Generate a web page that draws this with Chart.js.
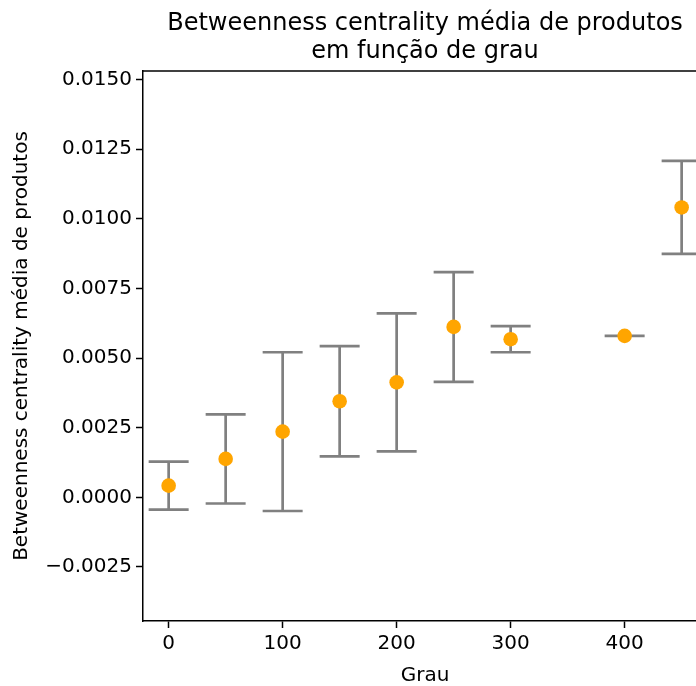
<!DOCTYPE html>
<html>
<head>
<meta charset="utf-8">
<script src="https://cdn.jsdelivr.net/npm/chart.js@4"></script>
<style>
  html, body { margin: 0; padding: 0; background: #fff; }
</style>
</head>
<body>
<canvas id="grafico" width="696" height="686"></canvas>
<script>
'use strict'

// dados
let grau = [0, 50, 100, 150, 200, 250, 300, 400, 450];
let mediaBetweenness = [0.00042, 0.00138, 0.00236, 0.00345, 0.00413, 0.00612, 0.00568, 0.00580, 0.01041];
let desvioBetweenness = [0.00086, 0.00160, 0.00285, 0.00198, 0.00248, 0.00197, 0.00047, 0.0, 0.00167];

let ticksX = [0, 100, 200, 300, 400];
let ticksY = [-0.0025, 0, 0.0025, 0.005, 0.0075, 0.01, 0.0125, 0.015];

let titulo = ['Betweenness centrality média de produtos', 'em função de grau'];
let rotuloX = 'Grau';
let rotuloY = 'Betweenness centrality média de produtos';

const fonte = 'DejaVu Sans';

// pontos para o chart.js
let pontos = [];
for (let i = 0; i < grau.length; i++) {
  pontos.push({ x: grau[i], y: mediaBetweenness[i] });
}

function formatarY(v) {
  let txt = Math.abs(v).toFixed(4);
  if (v < -1e-12) txt = '\u2212' + txt;
  return txt;
}

// desenha as barras de erro (media +- desvio) antes dos pontos
const barrasDeErro = {
  id: 'barrasDeErro',
  beforeDatasetsDraw(chart) {
    const ctx = chart.ctx;
    const escalaX = chart.scales.x;
    const escalaY = chart.scales.y;
    const meiaTampa = 20;
    ctx.save();
    ctx.strokeStyle = '#808080';
    ctx.lineWidth = 2.7;
    for (let i = 0; i < grau.length; i++) {
      let px = escalaX.getPixelForValue(grau[i]);
      let topo = escalaY.getPixelForValue(mediaBetweenness[i] + desvioBetweenness[i]);
      let base = escalaY.getPixelForValue(mediaBetweenness[i] - desvioBetweenness[i]);
      ctx.beginPath();
      ctx.moveTo(px, topo);
      ctx.lineTo(px, base);
      ctx.moveTo(px - meiaTampa, topo);
      ctx.lineTo(px + meiaTampa, topo);
      ctx.moveTo(px - meiaTampa, base);
      ctx.lineTo(px + meiaTampa, base);
      ctx.stroke();
    }
    ctx.restore();
  },
  afterDraw(chart) {
    const ctx = chart.ctx;
    const area = chart.chartArea;
    ctx.save();
    // borda de cima do eixo
    ctx.strokeStyle = '#000';
    ctx.lineWidth = 1.5;
    ctx.beginPath();
    ctx.moveTo(area.left, area.top);
    ctx.lineTo(area.right, area.top);
    ctx.stroke();
    // titulo e rotulo do eixo x (centro do eixo completo, que passa da borda da imagem)
    ctx.fillStyle = '#000';
    ctx.textAlign = 'center';
    ctx.textBaseline = 'alphabetic';
    ctx.font = '24px "' + fonte + '"';
    ctx.fillText(titulo[0], 425, 30);
    ctx.fillText(titulo[1], 425, 58);
    ctx.font = '20px "' + fonte + '"';
    ctx.fillText(rotuloX, 425, 681);
    ctx.restore();
  }
};

const config = {
  type: 'scatter',
  data: {
    datasets: [{
      label: 'media',
      data: pontos,
      backgroundColor: '#FFA500',
      borderColor: '#FFA500',
      borderWidth: 0,
      pointRadius: 7.3,
      pointHoverRadius: 7.3
    }]
  },
  options: {
    responsive: false,
    animation: false,
    devicePixelRatio: 1,
    layout: { autoPadding: false, padding: { top: 71, left: 0, right: 0, bottom: 0 } },
    plugins: {
      legend: { display: false },
      tooltip: { enabled: false },
      title: { display: false }
    },
    scales: {
      x: {
        type: 'linear',
        min: -22.5,
        max: 462.6,
        afterBuildTicks: function (eixo) {
          eixo.ticks = ticksX.map(v => ({ value: v }));
        },
        afterFit: function (eixo) { eixo.height = 65; },
        ticks: {
          color: '#000',
          font: { family: fonte, size: 20 },
          padding: 4,
          maxRotation: 0,
          autoSkip: false
        },
        grid: {
          drawOnChartArea: false,
          drawTicks: true,
          tickLength: 7,
          tickWidth: 1.5,
          tickColor: '#000'
        },
        border: { display: true, color: '#000', width: 1.5 }
      },
      y: {
        type: 'linear',
        min: -0.00444,
        max: 0.01531,
        afterBuildTicks: function (eixo) {
          eixo.ticks = ticksY.map(v => ({ value: v }));
        },
        afterFit: function (eixo) { eixo.width = 143; },
        ticks: {
          color: '#000',
          font: { family: fonte, size: 20 },
          padding: 4,
          callback: function (v) { return formatarY(v); }
        },
        grid: {
          drawOnChartArea: false,
          drawTicks: true,
          tickLength: 7,
          tickWidth: 1.5,
          tickColor: '#000'
        },
        border: { display: true, color: '#000', width: 1.5 },
        title: {
          display: true,
          text: rotuloY,
          color: '#000',
          font: { family: fonte, size: 20 },
          padding: { top: 10, bottom: 0 }
        }
      }
    }
  },
  plugins: [barrasDeErro]
};

let canvasGrafico = document.getElementById('grafico');
const grafico = new Chart(canvasGrafico, config);
</script>
</body>
</html>
